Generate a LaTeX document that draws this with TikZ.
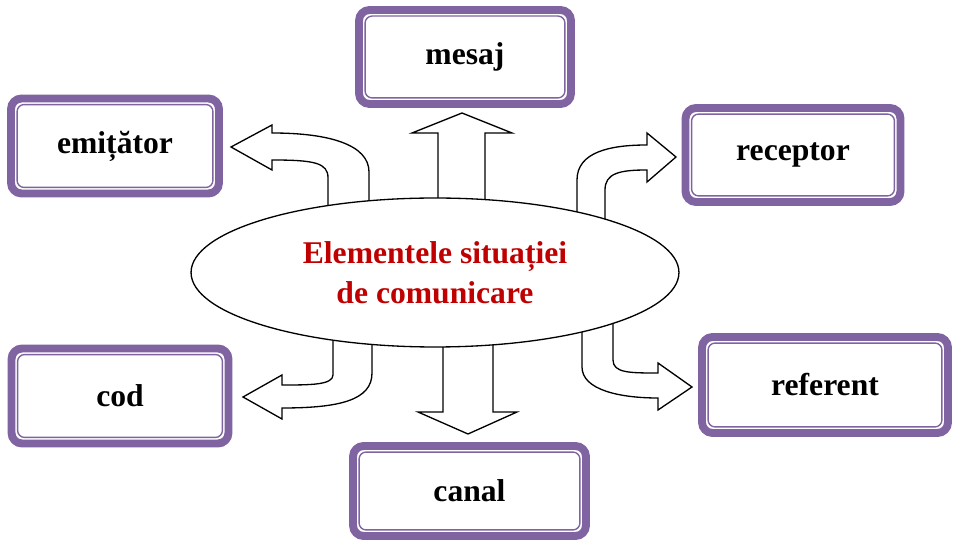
\documentclass[tikz,border=0pt]{standalone}
\usepackage{fontspec}
\setmainfont{Liberation Serif}
\usepackage{tikz}
\usetikzlibrary{shapes.geometric}
\usetikzlibrary{calc}
\definecolor{boxpurple}{HTML}{8064A2}
\definecolor{titlered}{HTML}{C00000}

\begin{document}
\begin{tikzpicture}[x=0.02cm, y=-0.02cm]
  \tikzset{every node/.style={font=\fontsize{18}{23}\selectfont\bfseries},
    elembox/.style={draw=boxpurple, line width=4.5pt, rounded corners=6pt, fill=white,
      inner sep=0pt},
    innerline/.style={draw=boxpurple, line width=0.8pt, rounded corners=4pt},
    blockarrow/.style={draw=black, fill=white, line width=0.75pt, line join=miter}}
  \useasboundingbox (0,0) rectangle (953,543);

  % block arrows, drawn under the ellipse
  \draw[blockarrow] (438,300) -- (438,133) -- (412,133) -- (462,113) -- (512,133)
    -- (485,133) -- (485,300) -- cycle;
  \draw[blockarrow] (443,250) -- (443,412) -- (418,412) -- (468,434) -- (517,412)
    -- (493,412) -- (493,250) -- cycle;
  \draw[blockarrow] (369,290) -- (369,172) .. controls (369,145) and (330,133) .. (272,133)
    -- (272,125) -- (231,147) -- (272,170) -- (272,160)
    .. controls (315,160) and (328,163) .. (328,178) -- (328,290) -- cycle;
  \draw[blockarrow] (577,300) -- (577,180) .. controls (577,152) and (610,145) .. (647,145)
    -- (647,133) -- (676,157) -- (647,182) -- (647,170)
    .. controls (620,170) and (605,173) .. (605,190) -- (605,300) -- cycle;
  \draw[blockarrow] (333,250) -- (333,375) .. controls (333,385) and (310,385) .. (282,385)
    -- (282,375) -- (243,397) -- (282,419) -- (282,408)
    .. controls (340,408) and (372,400) .. (372,373) -- (372,250) -- cycle;
  \draw[blockarrow] (582,250) -- (582,367) .. controls (582,390) and (620,398) .. (658,398)
    -- (658,410) -- (692,387) -- (658,363) -- (658,373)
    .. controls (630,373) and (613,373) .. (613,360) -- (613,250) -- cycle;

  \node[draw=black, fill=white, line width=0.75pt, ellipse, minimum width=9.76cm,
    minimum height=2.98cm, align=center, text=titlered] (sit) at (435,272.5)
    {Elementele situației\\de comunicare};

  \node[elembox, minimum width=4.24cm, minimum height=1.88cm] (mesaj) at (465,57) {mesaj};
  \node[elembox, minimum width=4.16cm, minimum height=1.9cm] (emit) at (115,146) {emițător};
  \node[elembox, minimum width=4.3cm, minimum height=1.88cm] (recep) at (793,155) {receptor};
  \node[elembox, minimum width=4.34cm, minimum height=1.9cm] (cod) at (120,396) {cod};
  \node[elembox, minimum width=4.92cm, minimum height=1.92cm] (refer) at (825,385) {referent};
  \node[elembox, minimum width=4.66cm, minimum height=1.8cm] (canal) at (469.5,491) {canal};

  % thin inner frame of every box
  \foreach \bx in {mesaj,emit,recep,cod,refer,canal}
    \draw[innerline] ($(\bx.south west)+(0.2cm,0.2cm)$) rectangle ($(\bx.north east)+(-0.2cm,-0.2cm)$);
\end{tikzpicture}
\end{document}
